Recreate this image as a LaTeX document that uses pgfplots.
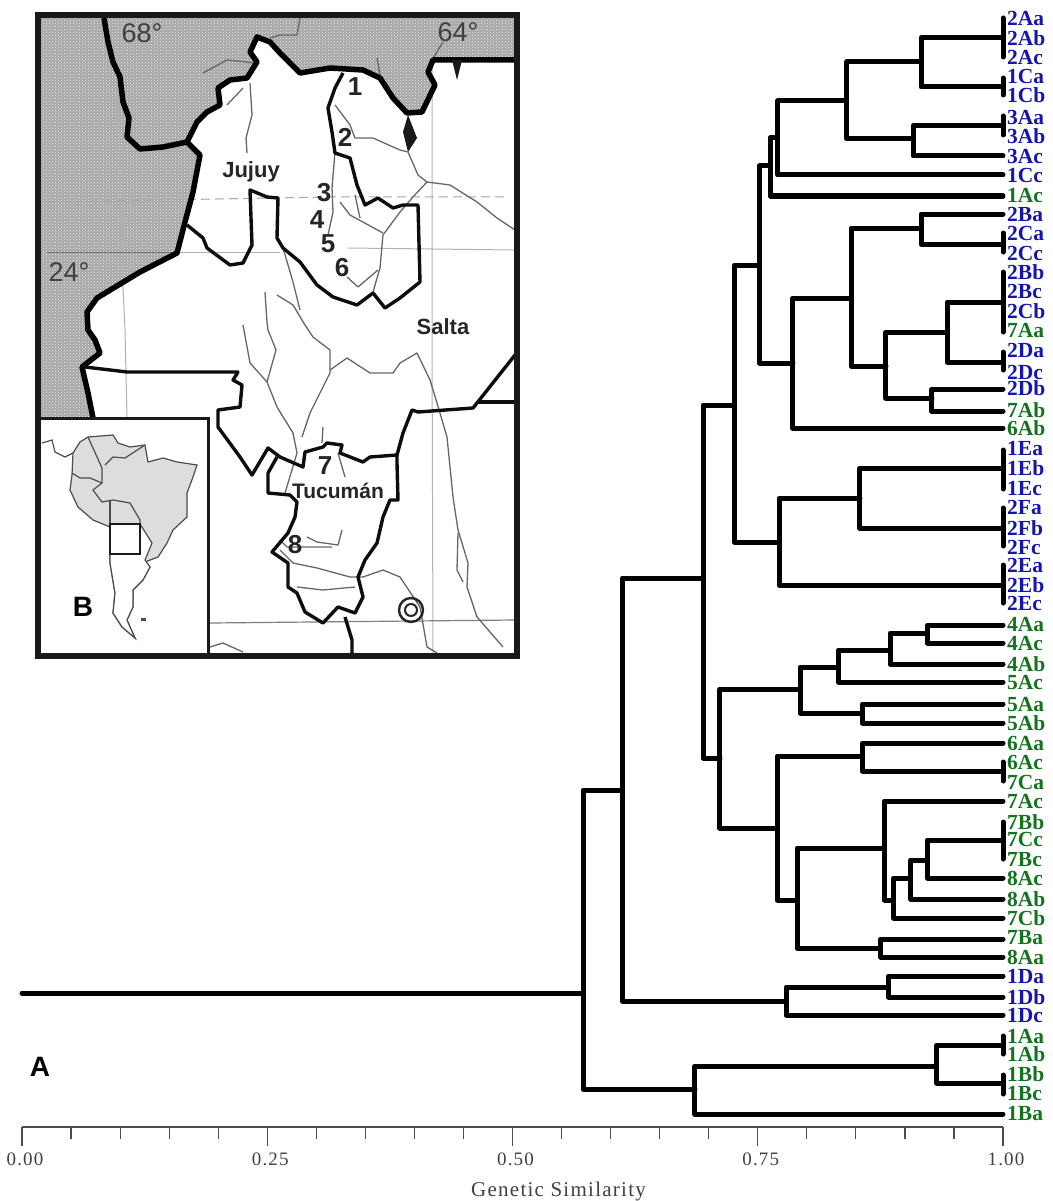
\documentclass[border=0pt]{standalone}
\usepackage{fontspec}
\setmainfont{Liberation Serif}
\newfontfamily\arial{Liberation Sans}
\newfontfamily\spaced[LetterSpace=6]{Liberation Serif}
\usepackage{pgfplots}
\pgfplotsset{compat=1.18}
\usetikzlibrary{patterns}

\definecolor{leafblue}{RGB}{20,20,175}
\definecolor{leafgreen}{RGB}{20,115,30}
\definecolor{stipple}{RGB}{165,165,165}
\definecolor{land}{RGB}{221,221,221}

% one dendrogram bracket: x1 y1 x y2 x2
\newcommand{\br}[5]{\addplot[tree] coordinates {(#1,#2) (#3,#2) (#3,#4) (#5,#4)};}
% bar that joins identical leaves at similarity 1
\newcommand{\tie}[2]{\addplot[tree] coordinates {(1,#1) (1,#2)};}
\newcommand{\leafB}[2]{\node[leaf,leafblue] at (axis cs:1,#1) {#2};}
\newcommand{\leafG}[2]{\node[leaf,leafgreen] at (axis cs:1,#1) {#2};}
% map pieces, in picture pixels
\newcommand{\mapline}[2]{\addplot[#1] coordinates {#2};}

\tikzset{
  tree/.style={black,line width=5pt,line cap=round,line join=round,no marks},
  leaf/.style={anchor=west,inner sep=0pt,xshift=4pt,font=\fontsize{21.5}{23}\selectfont\bfseries},
  thickb/.style={black,line width=5.5pt,line join=round,no marks},
  midb/.style={black!95,line width=3.4pt,line join=round,no marks},
  river/.style={black!60,line width=1.3pt,line join=round,no marks},
  grat/.style={black!30,line width=1pt,no marks},
  maptext/.style={inner sep=0pt,text=black!85,font=\fontsize{22}{24}\selectfont\arial\bfseries},
  mapnum/.style={inner sep=0pt,text=black!85,font=\fontsize{26}{28}\selectfont\arial\bfseries},
  deg/.style={inner sep=0pt,text=black!75,font=\fontsize{27}{29}\selectfont\arial},
}

\begin{document}
\begin{tikzpicture}[x=1pt,y=1pt]
\path[use as bounding box] (0,0) rectangle (1052,1201);

% dendrogram; y runs in picture pixels from the top
\begin{axis}[
  at={(22pt,74pt)},anchor=south west,
  scale only axis,width=981pt,height=1127pt,
  xmin=0,xmax=1,ymin=0,ymax=1127,
  y dir=reverse,clip=false,
  axis y line=none,
  axis x line=bottom,
  axis line style={-,black!70,line width=1.4pt},
  xtick={0,0.25,0.5,0.75,1},minor x tick num=4,
  tick align=outside,
  major tick length=19pt,minor tick length=12pt,
  tick style={black!70,line width=1.2pt},
  xticklabel style={/pgf/number format/fixed,/pgf/number format/zerofill,
    /pgf/number format/precision=2,/pgf/number format/assume math mode=true,
    font=\fontsize{19}{21}\selectfont\spaced,text=black!75,xshift=3pt,yshift=-3pt},
  xlabel={Genetic Similarity},
  xlabel style={font=\fontsize{21}{23}\selectfont\spaced,text=black!75,xshift=46pt,yshift=-10pt},
]
% upper blue cluster
\tie{18}{57}\tie{78}{95}
\br{1}{38}{.9164}{87}{1}
\tie{116}{135}
\br{1}{126}{.9083}{156}{1}
\br{.9164}{62}{.8407}{139}{.9083}
\br{.8407}{101}{.7703}{175}{1}
\br{.7703}{138}{.7625}{196}{1}
\tie{233}{252}
\br{1}{214}{.9164}{244}{1}
\tie{272}{332}\tie{352}{370}
\br{1}{302}{.9430}{362}{1}
\br{1}{389}{.9276}{411}{1}
\br{.9430}{332}{.8807}{398}{.9276}
\br{.9164}{228}{.8451}{366}{.8807}
\br{.8451}{298}{.7859}{428}{1}
\br{.7625}{166}{.7518}{363}{.7859}
\tie{450}{489}\tie{508}{546}\tie{565}{603}
\br{1}{468}{.8542}{528}{1}
\br{.8542}{498}{.7717}{585}{1}
\br{.7518}{265}{.7261}{542}{.7717}
% green cluster
\br{1}{625}{.9228}{643}{1}
\br{.9228}{633}{.8848}{664}{1}
\br{.8848}{650}{.8321}{682}{1}
\br{1}{704}{.8566}{723}{1}
\br{.8321}{667}{.7931}{713}{.8566}
\tie{762}{781}
\br{1}{743}{.8566}{771}{1}
\tie{822}{859}
\br{1}{840}{.9228}{878}{1}
\br{.9228}{860}{.9059}{899}{1}
\br{.9059}{878}{.8884}{918}{1}
\br{1}{801}{.8790}{900}{.8884}
\br{1}{939}{.8753}{957}{1}
\br{.8790}{848}{.7900}{948}{.8753}
\br{.8566}{756}{.7699}{900}{.7900}
\br{.7931}{689}{.7115}{828}{.7699}
\br{.7261}{405}{.6942}{758}{.7115}
% 1D and the base of the tree
\br{1}{976}{.8831}{997}{1}
\br{.8831}{987}{.7788}{1015}{1}
\br{.6942}{578}{.6119}{1001}{.7788}
\tie{1036}{1054}\tie{1075}{1094}
\br{1}{1045}{.9324}{1083}{1}
\br{.9324}{1066}{.6860}{1114}{1}
\br{.6119}{790}{.5719}{1089}{.6860}
\addplot[tree] coordinates {(0,993) (.5719,993)};

\leafB{18}{2Aa}\leafB{38}{2Ab}\leafB{57}{2Ac}\leafB{76}{1Ca}\leafB{95}{1Cb}
\leafB{117}{3Aa}\leafB{136}{3Ab}\leafB{156}{3Ac}\leafB{175}{1Cc}\leafG{196}{1Ac}
\leafB{214}{2Ba}\leafB{233}{2Ca}\leafB{253}{2Cc}\leafB{272}{2Bb}\leafB{291}{2Bc}
\leafB{311}{2Cb}\leafG{331}{7Aa}\leafB{350}{2Da}\leafB{372}{2Dc}\leafB{388}{2Db}
\leafG{410}{7Ab}\leafG{428}{6Ab}\leafB{449}{1Ea}\leafB{468}{1Eb}\leafB{488}{1Ec}
\leafB{507}{2Fa}\leafB{528}{2Fb}\leafB{547}{2Fc}\leafB{565}{2Ea}\leafB{585}{2Eb}
\leafB{603}{2Ec}\leafG{625}{4Aa}\leafG{643}{4Ac}\leafG{664}{4Ab}\leafG{683}{5Ac}
\leafG{704}{5Aa}\leafG{723}{5Ab}\leafG{743}{6Aa}\leafG{762}{6Ac}\leafG{782}{7Ca}
\leafG{801}{7Ac}\leafG{822}{7Bb}\leafG{839}{7Cc}\leafG{860}{7Bc}\leafG{878}{8Ac}
\leafG{899}{8Ab}\leafG{918}{7Cb}\leafG{938}{7Ba}\leafG{957}{8Aa}\leafB{976}{1Da}
\leafB{997}{1Db}\leafB{1015}{1Dc}\leafG{1036}{1Aa}\leafG{1054}{1Ab}\leafG{1074}{1Bb}
\leafG{1093}{1Bc}\leafG{1113}{1Ba}
\end{axis}

% map and inset, coordinates are picture pixels
\begin{axis}[
  at={(0pt,0pt)},anchor=south west,
  scale only axis,width=1052pt,height=1201pt,
  xmin=0,xmax=1052,ymin=0,ymax=1201,
  y dir=reverse,clip=false,hide axis,
]
% stippled neighbours
\addplot[fill=stipple,draw=none,no marks,postaction={pattern=crosshatch dots,pattern color=white!85!stipple}] coordinates {
  (38,15) (517,15) (517,60) (433,60) (428,72) (435,85) (422,112) (407,113) (393,98)
  (380,78) (363,70) (330,68) (300,73) (280,53) (270,42) (257,37) (250,52) (257,62)
  (247,78) (230,80) (218,88) (220,105) (207,112) (197,122) (187,142) (200,155)
  (193,192) (185,222) (177,253) (140,272) (97,298) (87,312) (88,330) (95,340)
  (100,353) (82,367) (88,393) (93,418) (38,418)} --cycle;

% graticule
\mapline{grat}{(117,18) (120,172) (122,252) (123,288) (125,330) (127,417)}
\mapline{grat}{(432,55) (432,338) (433,653)}
\mapline{black!55,line width=1pt,no marks}{(47,253) (177,253)}
\mapline{grat}{(177,253) (280,253)}
\mapline{grat}{(348,248) (515,250)}
\mapline{black!35,line width=1pt,dash pattern=on 9pt off 5pt,no marks}{(47,202) (330,197) (507,197)}
\mapline{black!50,line width=1.2pt,no marks}{(210,623) (515,620)}

% rivers
\mapline{river}{(203,73) (227,60) (247,62) (253,63)}
\mapline{river}{(250,83) (252,115) (246,138) (247,153)}
\mapline{river}{(227,105) (243,88)}
\mapline{river}{(300,18) (297,35) (280,35) (270,38)}
\mapline{river}{(377,58) (380,75)}
\mapline{river}{(443,42) (432,60)}
\mapline{river}{(342,75) (328,105) (335,152) (332,188) (333,212) (328,235)}
\mapline{river}{(335,105) (350,125) (355,138) (373,138) (400,150) (408,152) (418,175) (427,182) (450,185) (477,202) (497,218) (515,230)}
\mapline{river}{(427,182) (413,197) (400,212) (383,235) (380,268) (373,292)}
\mapline{river}{(340,202) (350,215) (383,233)}
\mapline{river}{(355,195) (360,218)}
\mapline{river}{(378,270) (358,287) (347,277)}
\mapline{river}{(283,248) (293,282) (300,310)}
\mapline{river}{(265,292) (267,322) (268,330) (276,350) (267,382)}
\mapline{river}{(243,325) (250,363) (267,382) (277,407) (293,433) (297,453) (285,493)}
\mapline{river}{(277,295) (293,305) (305,325) (313,337) (330,350) (330,373) (323,387) (310,413) (302,437)}
\mapline{river}{(330,370) (347,358) (370,373) (393,373) (400,363) (417,353) (430,380) (437,403) (447,437) (453,497) (458,530) (468,563) (467,587) (477,617) (503,647)}
\mapline{river}{(458,533) (457,570) (463,582)}
\mapline{river}{(323,427) (322,443)}
\mapline{river}{(338,453) (345,477)}
\mapline{river}{(280,550) (293,563) (317,568) (350,577) (363,577)}
\mapline{river}{(297,587) (323,590) (355,587)}
\mapline{river}{(307,537) (317,542) (338,545) (342,530)}
\mapline{river}{(280,540) (287,547) (332,547)}
\mapline{river}{(363,577) (383,570) (400,577) (420,607) (427,647) (437,653)}
\mapline{river}{(210,647) (223,643) (243,652)}

% province boundaries
\mapline{midb}{(187,225) (203,238) (207,248) (230,265) (243,263) (252,245) (250,190) (267,197) (278,198) (277,238) (283,248) (300,262) (317,285) (333,297) (357,305) (373,293) (385,308) (400,298) (420,282) (418,205) (403,205) (393,208) (378,198) (365,205) (357,185) (350,158) (335,153) (332,132) (328,108) (335,88) (343,73)}
\mapline{midb}{(85,367) (127,372) (238,372) (233,380) (242,385) (240,407) (218,410) (218,427) (240,457) (252,475) (268,448) (280,457) (303,467) (305,452) (323,447) (327,443) (342,445) (340,453) (363,462) (370,457) (397,455) (403,433) (412,410) (418,412) (473,408) (515,355)}
\mapline{midb}{(478,402) (515,402)}
\mapline{midb}{(277,457) (268,473) (268,493) (290,495) (297,502) (295,517) (288,533) (272,552) (288,563) (288,587) (297,593) (305,612) (323,623) (338,607) (355,613) (363,597) (358,577) (365,560) (377,543) (383,517) (390,500) (398,500) (397,463) (397,455)}
\mapline{midb}{(345,617) (352,640) (352,653)}

% international border
\mapline{thickb}{(104,18) (108,42) (113,62) (120,77) (123,102) (129,118) (127,137) (140,149) (163,147) (187,142) (200,155) (193,192) (185,222) (177,253) (140,272) (97,298) (87,312) (88,330) (95,340) (100,353) (82,367) (88,393) (93,418)}
\mapline{thickb}{(187,142) (197,122) (207,112) (220,105) (218,88) (230,80) (247,78) (257,62) (250,52) (257,37) (270,42) (280,53) (300,73) (330,68) (363,70) (380,78) (393,98) (407,113) (422,112) (435,85) (428,72) (433,60) (515,60)}
\addplot[fill=black!90,draw=none,no marks] coordinates {(403,132) (408,152) (417,138) (408,115)} --cycle;
\addplot[fill=black!90,draw=none,no marks] coordinates {(452,60) (457,80) (462,60)} --cycle;

% reservoir rings
\addplot[only marks,mark=o,mark size=12pt,mark options={line width=2.4pt,black!85}] coordinates {(411,610)};
\addplot[only marks,mark=o,mark size=6pt,mark options={line width=2pt,black!85}] coordinates {(411,610)};

% inset box with South America
\addplot[fill=white,draw=black!90,line width=3pt,no marks] coordinates {(38,418) (208,418) (208,656) (38,656)} --cycle;
\addplot[fill=land,draw=black!70,line width=1.2pt,no marks] coordinates {
  (73,453) (80,442) (88,437) (113,435) (118,443) (130,447) (145,445) (148,462) (163,458)
  (177,462) (197,465) (193,477) (187,493) (187,517) (173,530) (167,543) (158,557)
  (145,562) (150,567) (143,580) (133,590) (133,607) (127,620) (130,627) (135,638)
  (122,627) (113,613) (115,593) (110,563) (110,527) (93,520) (78,507) (70,490) (72,475)} --cycle;
% Argentina and Chile stay white
\addplot[fill=white,draw=black!70,line width=1.2pt,no marks] coordinates {
  (110,524) (140,524) (152,543) (145,560) (150,567) (143,580) (133,590) (133,607)
  (127,620) (130,627) (135,638) (122,627) (113,613) (115,593) (110,563)} --cycle;
\mapline{black!70,line width=1.2pt,no marks}{(42,443) (52,440) (55,452) (65,457) (73,453)}
\mapline{black!70,line width=1.2pt,no marks}{(102,468) (102,483) (93,490) (102,502) (113,500) (130,503) (140,520) (140,527)}
\mapline{black!70,line width=1.2pt,no marks}{(110,500) (110,527)}
\mapline{black!70,line width=1.2pt,no marks}{(105,465) (113,457) (125,458) (145,445)}
\mapline{black!70,line width=1.2pt,no marks}{(72,473) (80,478) (90,478) (102,483)}
\mapline{black!70,line width=1.2pt,no marks}{(102,468) (88,437)}
\addplot[draw=black!90,line width=2.4pt,no marks] coordinates {(110,524) (140,524) (140,554) (110,554)} --cycle;
\addplot[fill=black!70,draw=none,no marks] coordinates {(141,618) (146,618) (146,621) (141,621)} --cycle;

% frame of the map
\addplot[draw=black!90,line width=6pt,no marks] coordinates {(38,15) (517,15) (517,656) (38,656)} --cycle;

\node[maptext] at (axis cs:251,172) {Jujuy};
\node[maptext] at (axis cs:443,327) {Salta};
\node[maptext,font=\fontsize{21}{23}\selectfont\arial\bfseries] at (axis cs:338,491) {Tucumán};
\node[mapnum] at (axis cs:355,87) {1};
\node[mapnum] at (axis cs:345,137) {2};
\node[mapnum] at (axis cs:324,193) {3};
\node[mapnum] at (axis cs:317,220) {4};
\node[mapnum] at (axis cs:328,244) {5};
\node[mapnum] at (axis cs:342,268) {6};
\node[mapnum] at (axis cs:325,466) {7};
\node[mapnum] at (axis cs:295,545) {8};
\node[deg] at (axis cs:142,33) {68°};
\node[deg] at (axis cs:458,32) {64°};
\node[deg] at (axis cs:69,272) {24°};
\node[inner sep=0pt,font=\fontsize{28}{30}\selectfont\arial\bfseries] at (axis cs:83,607) {B};
\node[inner sep=0pt,font=\fontsize{28}{30}\selectfont\arial\bfseries] at (axis cs:40,1067) {A};
\end{axis}
\end{tikzpicture}
\end{document}
